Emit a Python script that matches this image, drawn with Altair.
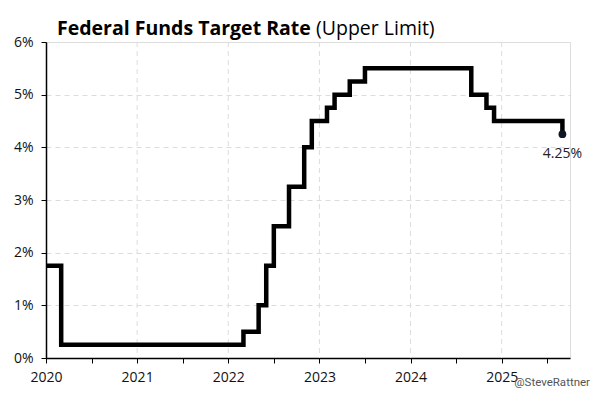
import altair as alt
import pandas as pd

# Data: Federal Funds target rate (upper limit), change points by month
months = ["2020-01", "2020-03", "2022-03", "2022-05", "2022-06", "2022-07",
          "2022-09", "2022-11", "2022-12", "2023-02", "2023-03", "2023-05",
          "2023-07", "2024-09", "2024-11", "2024-12", "2025-09"]
rates = [1.75, 0.25, 0.50, 1.00, 1.75, 2.50, 3.25, 4.00, 4.50, 4.75, 5.00,
         5.25, 5.50, 5.00, 4.75, 4.50, 4.25]

x_ticks = [2020, 2020.5, 2021, 2021.5, 2022, 2022.5, 2023, 2023.5,
           2024, 2024.5, 2025, 2025.5]
grid_years = [2021, 2022, 2023, 2024, 2025]
y_ticks = [0, 1, 2, 3, 4, 5, 6]

title_main = ["Federal Funds Target Rate"]
title_sub = ["(Upper Limit)"]
credit = ["@SteveRattner"]

FONT = "Open Sans"

df = pd.DataFrame({"month": months, "rate": rates})
df["t"] = df["month"].apply(lambda s: int(s[:4]) + (int(s[5:7]) - 1) / 12)
last = df.tail(1).copy()
last["label"] = last["rate"].map(lambda v: f"{v:.2f}%")

W, H = 524, 316
xscale = alt.Scale(domain=[2020, 2025.75], nice=False, zero=False)

x_enc = alt.X(
    "t:Q",
    scale=xscale,
    axis=alt.Axis(
        values=x_ticks,
        labelExpr="datum.value % 1 == 0 ? format(datum.value, 'd') : ''",
        title=None,
        domainColor="#000",
        domainWidth=1.5,
        tickColor="#000",
        tickSize=5,
        labelFont=FONT,
        labelFontSize=14,
        labelColor="#111",
        labelPadding=7,
        labelFlush=False,
        labelOverlap=False,
        grid=False,
    ),
)
y_enc = alt.Y(
    "rate:Q",
    scale=alt.Scale(domain=[0, 6], nice=False),
    axis=alt.Axis(
        values=y_ticks,
        labelExpr="datum.value + '%'",
        title=None,
        domainColor="#000",
        domainWidth=1.5,
        tickColor="#000",
        tickSize=5,
        labelFont=FONT,
        labelFontSize=14,
        labelColor="#111",
        labelPadding=8,
        labelFlush=False,
        grid=True,
        gridColor="#dcdcdc",
        gridDash=[5, 4],
    ),
)

vgrid = alt.Chart(pd.DataFrame({"yr": grid_years})).mark_rule(
    color="#dcdcdc", strokeDash=[5, 4], strokeWidth=1
).encode(x=alt.X("yr:Q", scale=xscale))

line = alt.Chart(df).mark_line(
    interpolate="step-after", color="#000", strokeWidth=4.5, strokeJoin="miter", strokeCap="butt"
).encode(x=x_enc, y=y_enc)

dot = alt.Chart(last).mark_point(filled=True, size=60, color="#0d1726", opacity=1).encode(
    x="t:Q", y="rate:Q"
)

lbl = alt.Chart(last).mark_text(
    font=FONT, fontSize=14, color="#222", dy=13, baseline="top", align="center"
).encode(x="t:Q", y="rate:Q", text="label:N")

t1 = alt.Chart(pd.DataFrame({"s": title_main})).mark_text(
    font=FONT, fontSize=19.5, fontWeight="bold", color="#000", align="left", baseline="alphabetic"
).encode(x=alt.value(11), y=alt.value(-7), text="s:N")

t2 = alt.Chart(pd.DataFrame({"s": title_sub})).mark_text(
    font=FONT, fontSize=19.5, color="#000", align="left", baseline="alphabetic"
).encode(x=alt.value(270), y=alt.value(-7), text="s:N")

cr = alt.Chart(pd.DataFrame({"s": credit})).mark_text(
    font="Roboto", fontSize=11.5, color="#555", align="right", baseline="alphabetic"
).encode(x=alt.value(544), y=alt.value(344), text="s:N")

chart = alt.layer(vgrid, line, dot, lbl, t1, t2, cr).properties(
    width=W, height=H,
    autosize=alt.AutoSizeParams(type="none"),
    padding={"left": 38, "top": 34, "right": 22, "bottom": 33},
).configure_view(stroke=None).configure(background="white")

chart.save("out.html", embed_options={"renderer": "svg", "actions": False})
